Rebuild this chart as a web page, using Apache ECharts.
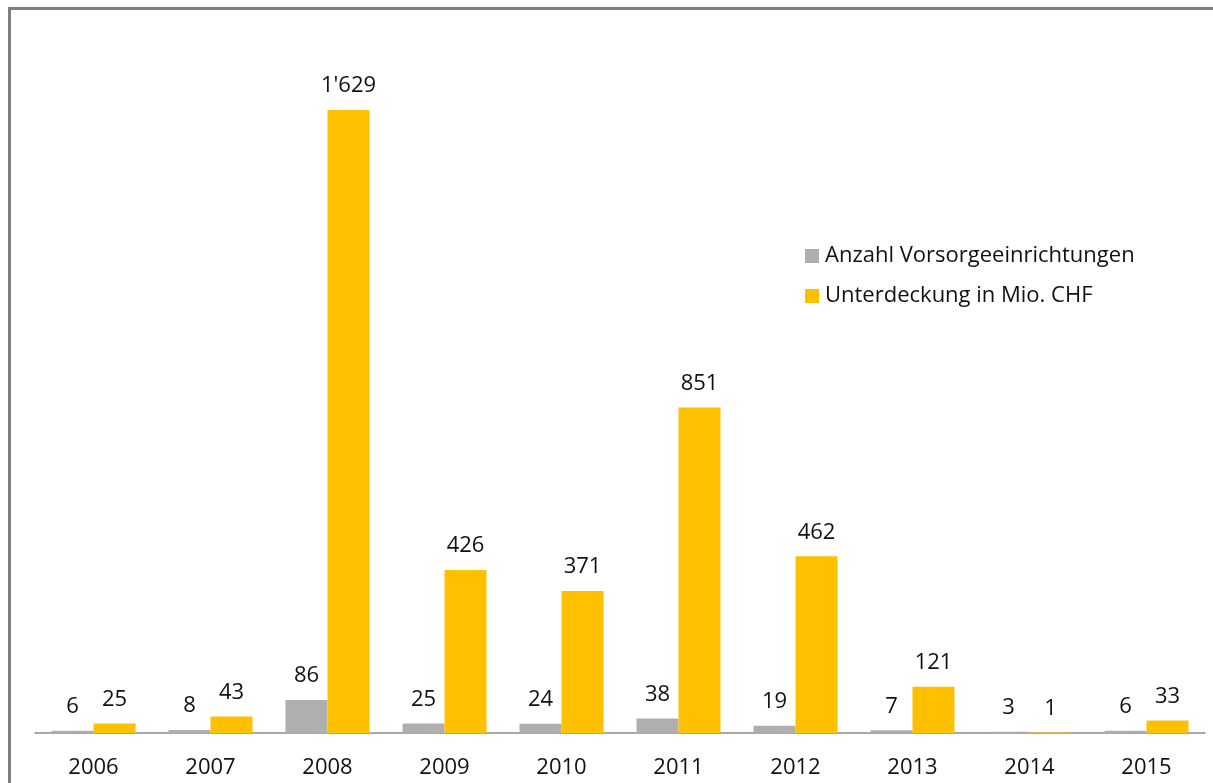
<!DOCTYPE html>
<html>
<head>
<meta charset="utf-8">
<script src="https://cdn.jsdelivr.net/npm/echarts@6/dist/echarts.min.js"></script>
<style>
html,body{margin:0;padding:0;background:#fff;}
#c{width:1213px;height:783px;}
</style>
</head>
<body>
<div id="c"></div>
<script>
const categories = ['2006','2007','2008','2009','2010','2011','2012','2013','2014','2015'];
const seriesNames = ['Anzahl Vorsorgeeinrichtungen','Unterdeckung in Mio. CHF'];
const anzahl = [6, 8, 86, 25, 24, 38, 19, 7, 3, 6];
const unterdeckung = [25, 43, 1629, 426, 371, 851, 462, 121, 1, 33];

const chart = echarts.init(document.getElementById('c'));
const font = '"Open Sans", sans-serif';
const fmt = p => String(p.value).replace(/\B(?=(\d{3})+(?!\d))/g, "'");
const labelCfg = {show:true, position:'top', distance:13, fontFamily:font, fontSize:22, color:'#111', formatter: fmt};
chart.setOption({
  animation:false,
  backgroundColor:'#fff',
  graphic:[
    {type:'line', shape:{x1:9.5, y1:8, x2:9.5, y2:783}, style:{stroke:'#808080', lineWidth:3}, silent:true},
    {type:'line', shape:{x1:8, y1:8.5, x2:1213, y2:8.5}, style:{stroke:'#808080', lineWidth:3}, silent:true}
  ],
  legend:{
    orient:'vertical', left:800, top:240, itemGap:18, itemWidth:14, itemHeight:14,
    icon:'rect',
    textStyle:{fontFamily:font, fontSize:22, color:'#111', padding:[0,0,0,1]},
    data:seriesNames
  },
  grid:{left:35, right:8, top:44.6, bottom:50, containLabel:false},
  xAxis:{
    type:'category', data:categories,
    axisLine:{lineStyle:{color:'#8c8c8c', width:1.5}},
    axisTick:{show:false},
    axisLabel:{fontFamily:font, fontSize:22, color:'#111', margin:24}
  },
  yAxis:{type:'value', min:0, max:1800, show:false, splitLine:{show:false}},
  series:[
    {name:seriesNames[0], type:'bar', data:anzahl, barWidth:42, barGap:'0%', itemStyle:{color:'#AFAFAF'}, label:labelCfg},
    {name:seriesNames[1], type:'bar', data:unterdeckung, barWidth:42, barGap:'0%', itemStyle:{color:'#FFC000'}, label:labelCfg}
  ]
});
</script>
</body>
</html>
